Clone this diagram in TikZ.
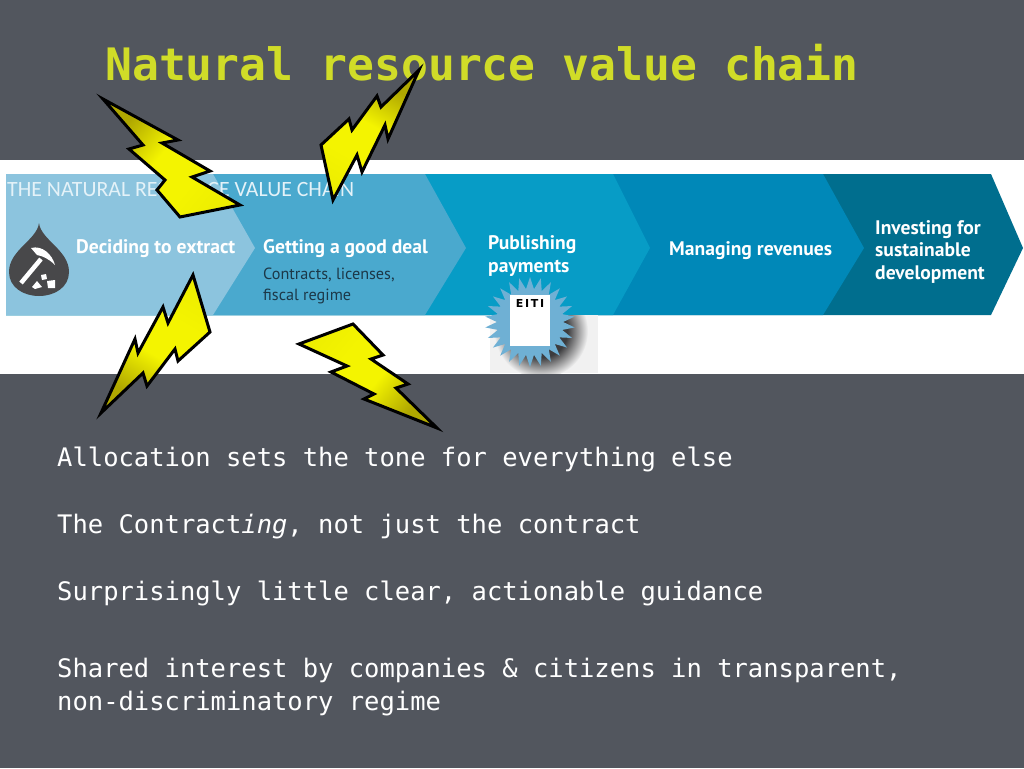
\documentclass[tikz,border=0pt]{standalone}
\usepackage{fontspec}
\usepackage{xcolor}
\usepackage{tikz}
\usetikzlibrary{shapes.geometric}
\setmainfont{DejaVu Sans Mono}
\newfontfamily\bandfont{PT Sans}
\newfontfamily\headfont{Carlito}
\newfontfamily\eitifont[LetterSpace=16]{DejaVu Sans}
\definecolor{slide}{HTML}{52565E}
\definecolor{titlecol}{HTML}{D0DC28}
\definecolor{chevA}{HTML}{8CC4DE}
\definecolor{chevB}{HTML}{4AA9CE}
\definecolor{chevC}{HTML}{079CC6}
\definecolor{chevD}{HTML}{0088B8}
\definecolor{chevE}{HTML}{006E8E}
\definecolor{drop}{HTML}{48484A}
\definecolor{darktext}{HTML}{1C3848}
\definecolor{eitiblue}{HTML}{6FB0D4}
\definecolor{eitigrey}{HTML}{F1F1F1}
\definecolor{eitidark}{HTML}{3C3C3E}
\definecolor{boltdark}{HTML}{B0A800}
\definecolor{boltmid}{HTML}{F4F400}
\definecolor{boltlow}{HTML}{E4E400}
\pgfdeclareradialshading{eitishadow}{\pgfpoint{0bp}{0bp}}{%
  color(0bp)=(eitidark); color(14bp)=(eitidark); color(25bp)=(eitigrey); color(50bp)=(eitigrey)}
\pgfdeclareverticalshading{boltshade}{100bp}{%
  color(0bp)=(boltlow); color(38bp)=(boltmid); color(54bp)=(boltmid); color(72bp)=(boltdark); color(100bp)=(boltdark)}
\tikzset{
  bolt/.style={draw=black,line width=3pt,miter limit=20,shading=boltshade},
  bandhead/.style={anchor=base west,text=white,inner sep=0pt,align=left,font=\bandfont\bfseries\fontsize{19.6}{22.5}\selectfont},
  bodyline/.style={anchor=base west,text=white,inner sep=0pt,align=left,font=\fontsize{25.5}{33}\selectfont},
}
\newcommand{\Chevron}[3]{%
  \fill[color=#1] (6,174) -- (#2,174) -- (#3,248) -- (#2,315) -- (6,315) -- cycle;
}
\newcommand{\Bolt}[2]{%
  \shadedraw[bolt,shading angle=#1] #2 -- cycle;
}
\begin{document}
\begin{tikzpicture}[x=1pt,y=-1pt]
  \useasboundingbox (0,0) rectangle (1024,768);
  \fill[color=slide] (0,0) rectangle (1024,768);
  \fill[color=white] (0,160) rectangle (1024,374);
  \node[anchor=base west,text=titlecol,inner sep=0pt,font=\bfseries\fontsize{44.7}{50}\selectfont] (title) at (105,80) {Natural resource value chain};
  % chevrons, last one first
  \Chevron{chevE}{991}{1023}
  \Chevron{chevD}{823}{864}
  \Chevron{chevC}{613}{650}
  \Chevron{chevB}{425}{466}
  \Chevron{chevA}{213}{255}
  \node[anchor=base west,text=white!85!chevB,inner sep=0pt,font=\headfont\fontsize{21.8}{24}\selectfont] (bandtitle) at (7,196) {THE NATURAL RESOURCE VALUE CHAIN};
  % droplet with hammer
  \fill[color=drop] (39,223) .. controls (41,240) and (69,250) .. (69,272) .. controls (69,287) and (55,296) .. (39,296) .. controls (23,296) and (9,287) .. (9,272) .. controls (9,250) and (37,240) .. (39,223) -- cycle;
  \draw[color=white,line width=4.5pt] (21,283) -- (41,259);
  \fill[color=white] (31,248) .. controls (42,245) and (52,254) .. (55,265) .. controls (49,259) and (43,256) .. (37,255) -- cycle;
  \fill[color=white] (32,287) -- (37,281) -- (42,287) -- (35,289) -- cycle;
  \fill[color=white] (47,281) -- (55,280) -- (55,288) -- (48,288) -- cycle;
  \fill[color=white] (41,275) -- (46,274) -- (47,279) -- (42,280) -- cycle;
  \node[bandhead] (extract) at (76,253) {Deciding to extract};
  \node[bandhead] (deal) at (263,253) {Getting a good deal};
  \node[anchor=base west,text=darktext,inner sep=0pt,align=left,font=\bandfont\fontsize{16.2}{21}\selectfont] (contracts) at (263,300) {Contracts, licenses,\\fiscal regime};
  \node[bandhead] (publish) at (488,272) {Publishing\\payments};
  \node[bandhead] (revenues) at (669,255) {Managing revenues};
  \node[bandhead] (invest) at (875,279) {Investing for\\sustainable\\development};
  % EITI badge
  \fill[color=eitigrey] (490,315) rectangle (598,373);
  \begin{scope}
    \clip (490,315) rectangle (598,373);
    \shade[shading=eitishadow] (541,331) circle (47);
  \end{scope}
  \node[star,star points=26,star point ratio=1.36,fill=eitiblue,minimum size=90pt,inner sep=0pt] (eitistar) at (530,322) {};
  \fill[color=white] (510,295) rectangle (550,346);
  \node[anchor=base,text=black,inner sep=0pt,font=\eitifont\bfseries\fontsize{11}{11}\selectfont] (eiti) at (530,307) {EITI};
  % body text
  \node[bodyline] (allocation) at (57,466) {Allocation sets the tone for everything else};
  \node[bodyline] (contracting) at (57,533) {The Contract{\itshape ing}, not just the contract};
  \node[bodyline] (guidance) at (57,600) {Surprisingly little clear, actionable guidance};
  \node[bodyline] (shared) at (57,710) {Shared interest by companies \& citizens in transparent,\\non-discriminatory regime};
  % lightning bolts
  \Bolt{50}{(103,99) -- (178,140) -- (162,143) -- (210,171) -- (192,177) -- (240,205) -- (180,217) -- (157,190) -- (165,180) -- (129,149) -- (143,145)}
  \Bolt{-30}{(419,70) -- (388,139) -- (385,125) -- (362,172) -- (357,155) -- (333,200) -- (321,145) -- (349,119) -- (352,130) -- (377,96) -- (381,107)}
  \Bolt{150}{(101,413) -- (135,339) -- (138,353) -- (163,307) -- (168,323) -- (193,275) -- (210,332) -- (178,361) -- (175,349) -- (147,386) -- (143,373)}
  \Bolt{230}{(299,344) -- (353,324) -- (383,355) -- (371,359) -- (408,384) -- (396,388) -- (437,428) -- (364,399) -- (374,394) -- (331,372) -- (347,366)}
\end{tikzpicture}
\end{document}
